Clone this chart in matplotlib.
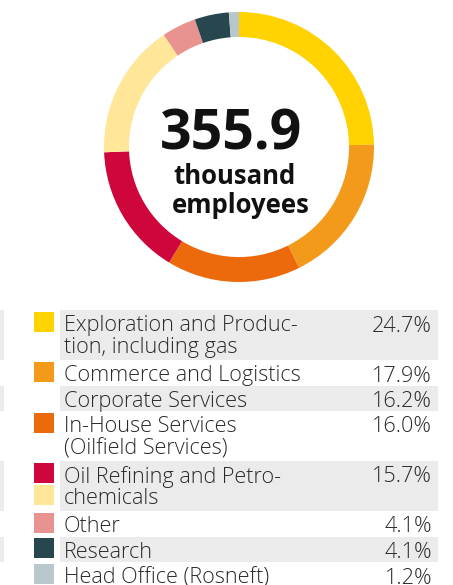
import matplotlib
matplotlib.use("Agg")
import matplotlib.pyplot as plt
from matplotlib.patches import Rectangle

# ---- data ----
donut_labels = ["Exploration and Production, including gas", "Commerce and Logistics",
                "In-House Services (Oilfield Services)", "Oil Refining and Petrochemicals",
                "Corporate Services", "Other", "Research", "Head Office (Rosneft)"]
donut_values = [24.7, 17.9, 16.0, 15.7, 16.2, 4.1, 4.1, 1.2]
donut_colors = ["#FFD200", "#F39A1A", "#EC6A0C", "#CE063C", "#FFE699", "#E8938F", "#26474E", "#B8C7CC"]

total_value = "355.9"
total_unit = ["thousand", "employees"]

row_labels = [["Exploration and Produc-", "tion, including gas"],
              ["Commerce and Logistics"],
              ["Corporate Services"],
              ["In-House Services", "(Oilfield Services)"],
              ["Oil Refining and Petro-", "chemicals"],
              ["Other"],
              ["Research"],
              ["Head Office (Rosneft)"]]
row_values = ["24.7%", "17.9%", "16.2%", "16.0%", "15.7%", "4.1%", "4.1%", "1.2%"]
row_shaded = [True, False, True, False, True, False, True, False]

# legend swatches: (line slot index, colour) as shown in the original
swatch_lines = [0, 2, 4, 6, 7, 8, 9, 10]
swatch_colors = ["#FFD200", "#F39A1A", "#EC6A0C", "#CE063C", "#FFE699", "#E8938F", "#26474E", "#B8C7CC"]

W, H = 453, 585
fig = plt.figure(figsize=(W / 100, H / 100), dpi=100)

# ---- main pixel axes ----
ax = fig.add_axes([0, 0, 1, 1])
ax.set_xlim(0, W)
ax.set_ylim(H, 0)
ax.axis("off")

# ---- donut ----
cx, cy, r = 239, 147, 135
pax = fig.add_axes([(cx - r) / W, 1 - (cy + r) / H, 2 * r / W, 2 * r / H])
pax.pie(donut_values, colors=donut_colors, startangle=90, counterclock=False,
        radius=1, wedgeprops=dict(width=0.185, linewidth=0))
pax.set_xlim(-1, 1)
pax.set_ylim(-1, 1)
pax.set_aspect("equal")
pax.axis("off")

cfont = dict(fontweight="bold", family="Open Sans", color="#111111")
ax.text(231, 150, total_value, ha="center", va="baseline", fontsize=40, **cfont)
ax.text(235, 184, total_unit[0], ha="center", va="baseline", fontsize=18.5, **cfont)
ax.text(241, 213, total_unit[1], ha="center", va="baseline", fontsize=18.5, **cfont)

# ---- table ----
top = 310
row_tops = []
baselines = []
y = top
for lines in row_labels:
    h = 25.5 if len(lines) == 1 else 50
    row_tops.append((y, h))
    for j in range(len(lines)):
        baselines.append(y + 21.5 + 22 * j)
    y += h

tfont = dict(fontsize=15.6, fontweight="light", family="Open Sans", color="#2a2a2a")
for (yt, h), lines, val, shaded in zip(row_tops, row_labels, row_values, row_shaded):
    if shaded:
        ax.add_patch(Rectangle((60, yt), 378, h, facecolor="#EBEBEB", edgecolor="none"))
        ax.add_patch(Rectangle((0, yt), 3.5, h, facecolor="#EBEBEB", edgecolor="none"))
    for j, line in enumerate(lines):
        ax.text(64, yt + 21.5 + 22 * j, line, ha="left", va="baseline", **tfont)
    ax.text(432, yt + 21.5, val, ha="right", va="baseline", **tfont)

for li, col in zip(swatch_lines, swatch_colors):
    yc = baselines[li] - 10
    ax.add_patch(Rectangle((34, yc - 10), 20, 20, facecolor=col, edgecolor="none"))

fig.savefig("out.png", dpi=100)
